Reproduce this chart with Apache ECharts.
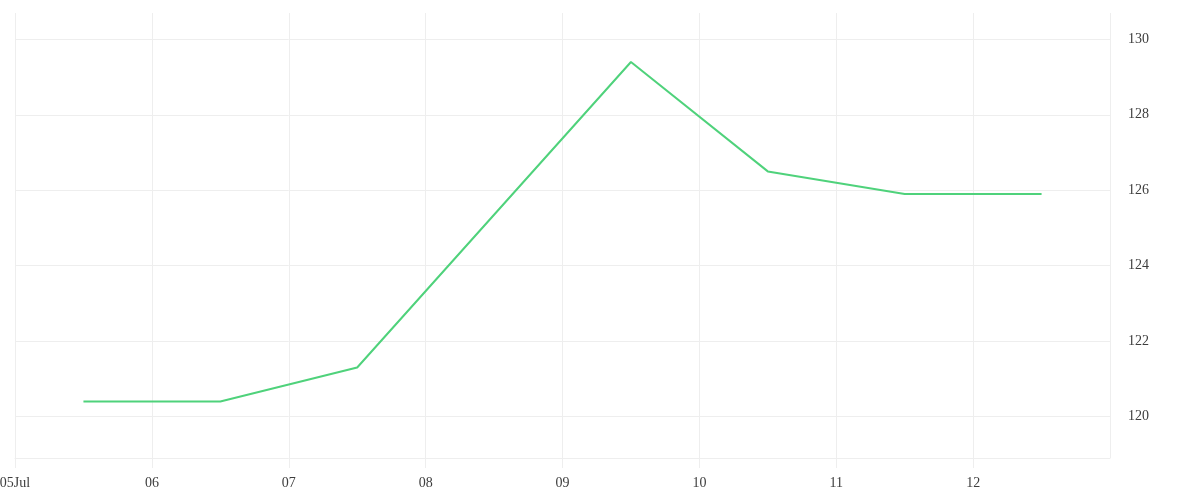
<!DOCTYPE html>
<html>
<head>
    <meta charset="utf-8">
    <script type="text/javascript" src="https://cdn.jsdelivr.net/npm/echarts@6/dist/echarts.min.js"></script>
    <style>
        html, body { margin: 0; padding: 0; background: #fff; }
    </style>
</head>
<body>
<div id="main" style="width:1200px;height:500px;"></div>

<script type="text/javascript">
    // day of July, points sit at noon of each day
    var dayPositions = [5.5, 6.5, 7.5, 8.5, 9.5, 10.5, 11.5, 12.5];
    var values = [120.4, 120.4, 121.3, 125.35, 129.4, 126.5, 125.9, 125.9];
    var yTicks = [120, 122, 124, 126, 128, 130];
    var firstDayLabel = '05Jul';

    var seriesData = [];
    for (var i = 0; i < dayPositions.length; i++) {
        seriesData.push([dayPositions[i], values[i]]);
    }

    var gridColor = '#eeeeee';
    var labelFont = 'Liberation Serif';
    var labelColor = '#3d3d3d';

    var myChart = echarts.init(document.getElementById('main'));
    var option = {
        animation: false,
        grid: {
            left: 15,
            right: 90,
            top: 13,
            bottom: 42,
            containLabel: false,
            outerBoundsMode: 'none'
        },
        xAxis: {
            type: 'value',
            min: 5,
            max: 13,
            interval: 1,
            axisLine: { show: true, lineStyle: { color: gridColor, width: 1 } },
            axisTick: { show: true, length: 10, lineStyle: { color: gridColor } },
            splitLine: { show: true, lineStyle: { color: gridColor, width: 1 } },
            axisLabel: {
                showMaxLabel: false,
                margin: 18,
                color: labelColor,
                fontFamily: labelFont,
                fontSize: 14,
                formatter: function (v) {
                    if (v === 5) return firstDayLabel;
                    return (v < 10 ? '0' : '') + v;
                }
            }
        },
        yAxis: {
            type: 'value',
            position: 'right',
            min: 118.9,
            max: 130.7,
            axisLine: { show: false },
            axisTick: { show: false, customValues: yTicks },
            splitLine: { show: true, lineStyle: { color: gridColor, width: 1 } },
            axisLabel: {
                customValues: yTicks,
                margin: 18,
                color: labelColor,
                fontFamily: labelFont,
                fontSize: 14
            }
        },
        series: [
            {
                type: 'line',
                data: seriesData,
                showSymbol: false,
                smooth: false,
                lineStyle: { color: '#4fd27b', width: 2 },
                itemStyle: { color: '#4fd27b' }
            }
        ]
    };
    myChart.setOption(option);
</script>
</body>
</html>
